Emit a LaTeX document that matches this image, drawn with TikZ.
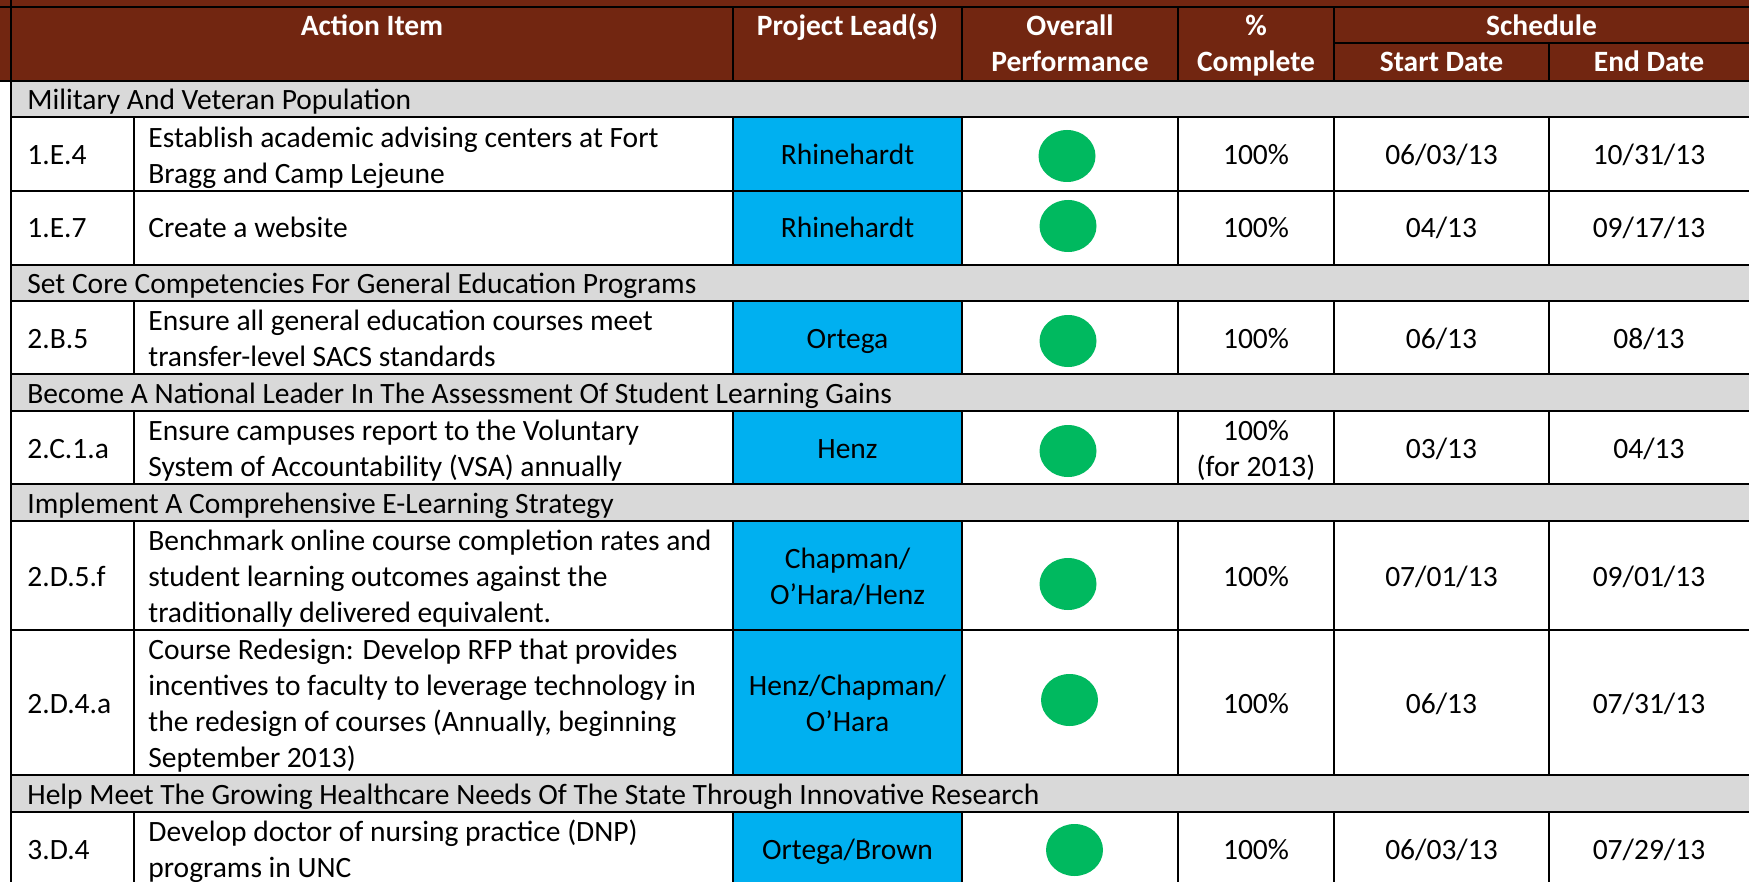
\documentclass[tikz,border=0pt]{standalone}
\usepackage{fontspec}
\setmainfont{Carlito}
\usetikzlibrary{shapes.geometric}
\definecolor{hdr}{RGB}{114,38,17}
\definecolor{band}{RGB}{217,217,217}
\definecolor{leadblue}{RGB}{0,176,240}
\definecolor{okgreen}{RGB}{0,185,95}
\newcommand\cs{\rule[-4pt]{0pt}{18pt}}
\tikzset{
  cell/.style={inner sep=0pt, font=\fontsize{14.75}{18}\selectfont, align=center},
  lcell/.style={cell, align=left, anchor=west},
  hcell/.style={inner sep=0pt, text=white, font=\fontsize{14.75}{18}\selectfont\bfseries, align=center},
  gtext/.style={inner sep=0pt, anchor=base west, font=\fontsize{14.75}{18}\selectfont},
  dot/.style={ellipse, fill=okgreen, minimum width=28.5pt, minimum height=26pt, inner sep=0pt},
  grid/.style={line width=1.4pt, black},
}
\begin{document}
\begin{tikzpicture}[x=0.5pt,y=-0.5pt]
\useasboundingbox (0,0) rectangle (1749,882);
\clip (0,0) rectangle (1749,882);
% fills
\fill[white] (0,0) rectangle (1749,882);
\fill[hdr] (0,0) rectangle (1749,81);
\foreach \a/\b in {81/117,265/301,374/411,484/521,775/812}
  \fill[band] (11,\a) rectangle (1749,\b);
\foreach \a/\b in {117/265,301/374,411/484,521/775,812/886}
  \fill[leadblue] (733,\a) rectangle (962,\b);
% header text
\node[hcell] (hact) at (372,26) {\cs Action Item};
\node[hcell] (hlead) at (847.5,26) {\cs Project Lead(s)};
\node[hcell] (hperf) at (1070,44) {\cs Overall\\\cs Performance};
\node[hcell] (hpct) at (1256,44) {\cs \%\\\cs Complete};
\node[hcell] (hsched) at (1541.5,26) {\cs Schedule};
\node[hcell] (hstart) at (1441.5,62) {\cs Start Date};
\node[hcell] (hend) at (1649,62) {\cs End Date};
% band texts
\node[gtext] (g1) at (27,109.5) {Military And Veteran Population};
\node[gtext] (g2) at (27,293.5) {Set Core Competencies For General Education Programs};
\node[gtext] (g3) at (27,403) {Become A National Leader In The Assessment Of Student Learning Gains};
\node[gtext] (g4) at (27,513) {Implement A Comprehensive E-Learning Strategy};
\node[gtext] (g5) at (27,804) {Help Meet The Growing Healthcare Needs Of The State Through Innovative Research};
% row 1
\node[lcell] (r1id) at (27,155) {\cs 1.E.4};
\node[lcell] (r1act) at (148,156) {\cs Establish academic advising centers at Fort\\\cs Bragg and Camp Lejeune};
\node[cell] (r1lead) at (847.5,155) {\cs Rhinehardt};
\node[dot] (r1dot) at (1067,156) {};
\node[cell] (r1pct) at (1256,155) {\cs 100\%};
\node[cell] (r1start) at (1441.5,155) {\cs 06/03/13};
\node[cell] (r1end) at (1649,155) {\cs 10/31/13};
% row 2
\node[lcell] (r2id) at (27,228) {\cs 1.E.7};
\node[lcell] (r2act) at (148,228) {\cs Create a website};
\node[cell] (r2lead) at (847.5,228) {\cs Rhinehardt};
\node[dot] (r2dot) at (1068,226) {};
\node[cell] (r2pct) at (1256,228) {\cs 100\%};
\node[cell] (r2start) at (1441.5,228) {\cs 04/13};
\node[cell] (r2end) at (1649,228) {\cs 09/17/13};
% row 3
\node[lcell] (r3id) at (27,338) {\cs 2.B.5};
\node[lcell] (r3act) at (148,338) {\cs Ensure all general education courses meet\\\cs transfer-level SACS standards};
\node[cell] (r3lead) at (847.5,338) {\cs Ortega};
\node[dot] (r3dot) at (1068,341) {};
\node[cell] (r3pct) at (1256,338) {\cs 100\%};
\node[cell] (r3start) at (1441.5,338) {\cs 06/13};
\node[cell] (r3end) at (1649,338) {\cs 08/13};
% row 4
\node[lcell] (r4id) at (27,448) {\cs 2.C.1.a};
\node[lcell] (r4act) at (148,448) {\cs Ensure campuses report to the Voluntary\\\cs System of Accountability (VSA) annually};
\node[cell] (r4lead) at (847.5,448) {\cs Henz};
\node[dot] (r4dot) at (1068,451) {};
\node[cell] (r4pct) at (1256,448) {\cs 100\%\\\cs (for 2013)};
\node[cell] (r4start) at (1441.5,448) {\cs 03/13};
\node[cell] (r4end) at (1649,448) {\cs 04/13};
% row 5
\node[lcell] (r5id) at (27,576) {\cs 2.D.5.f};
\node[lcell] (r5act) at (148,576) {\cs Benchmark online course completion rates and\\\cs student learning outcomes against the\\\cs traditionally delivered equivalent.};
\node[cell] (r5lead) at (847.5,576) {\cs Chapman/\\\cs O'Hara/Henz};
\node[dot] (r5dot) at (1068,584) {};
\node[cell] (r5pct) at (1256,576) {\cs 100\%};
\node[cell] (r5start) at (1441.5,576) {\cs 07/01/13};
\node[cell] (r5end) at (1649,576) {\cs 09/01/13};
% row 6
\node[lcell] (r6id) at (27,703) {\cs 2.D.4.a};
\node[lcell] (r6act) at (148,703) {\cs Course Redesign: Develop RFP that provides\\\cs incentives to faculty to leverage technology in\\\cs the redesign of courses (Annually, beginning\\\cs September 2013)};
\node[cell] (r6lead) at (847.5,703) {\cs Henz/Chapman/\\\cs O'Hara};
\node[dot] (r6dot) at (1069.5,700) {};
\node[cell] (r6pct) at (1256,703) {\cs 100\%};
\node[cell] (r6start) at (1441.5,703) {\cs 06/13};
\node[cell] (r6end) at (1649,703) {\cs 07/31/13};
% row 7
\node[lcell] (r7id) at (27,849) {\cs 3.D.4};
\node[lcell] (r7act) at (148,849) {\cs Develop doctor of nursing practice (DNP)\\\cs programs in UNC};
\node[cell] (r7lead) at (847.5,849) {\cs Ortega/Brown};
\node[dot] (r7dot) at (1074.5,850) {};
\node[cell] (r7pct) at (1256,849) {\cs 100\%};
\node[cell] (r7start) at (1441.5,849) {\cs 06/03/13};
\node[cell] (r7end) at (1649,849) {\cs 07/29/13};
% grid lines
\draw[grid] (0,7) -- (1749,7);
\draw[grid] (0,81) -- (1749,81);
\draw[grid] (1334,43) -- (1749,43);
\foreach \y in {117,191,265,301,374,411,484,521,630,775,812,886}
  \draw[grid] (11,\y) -- (1749,\y);
\draw[grid] (11,0) -- (11,882);
\foreach \x in {733,962,1178,1334}
  \draw[grid] (\x,7) -- (\x,81);
\draw[grid] (1549,43) -- (1549,81);
\foreach \a/\b in {117/265,301/374,411/484,521/775,812/886}
  \foreach \x in {134,733,962,1178,1334,1549}
    \draw[grid] (\x,\a) -- (\x,\b);
\end{tikzpicture}
\end{document}
